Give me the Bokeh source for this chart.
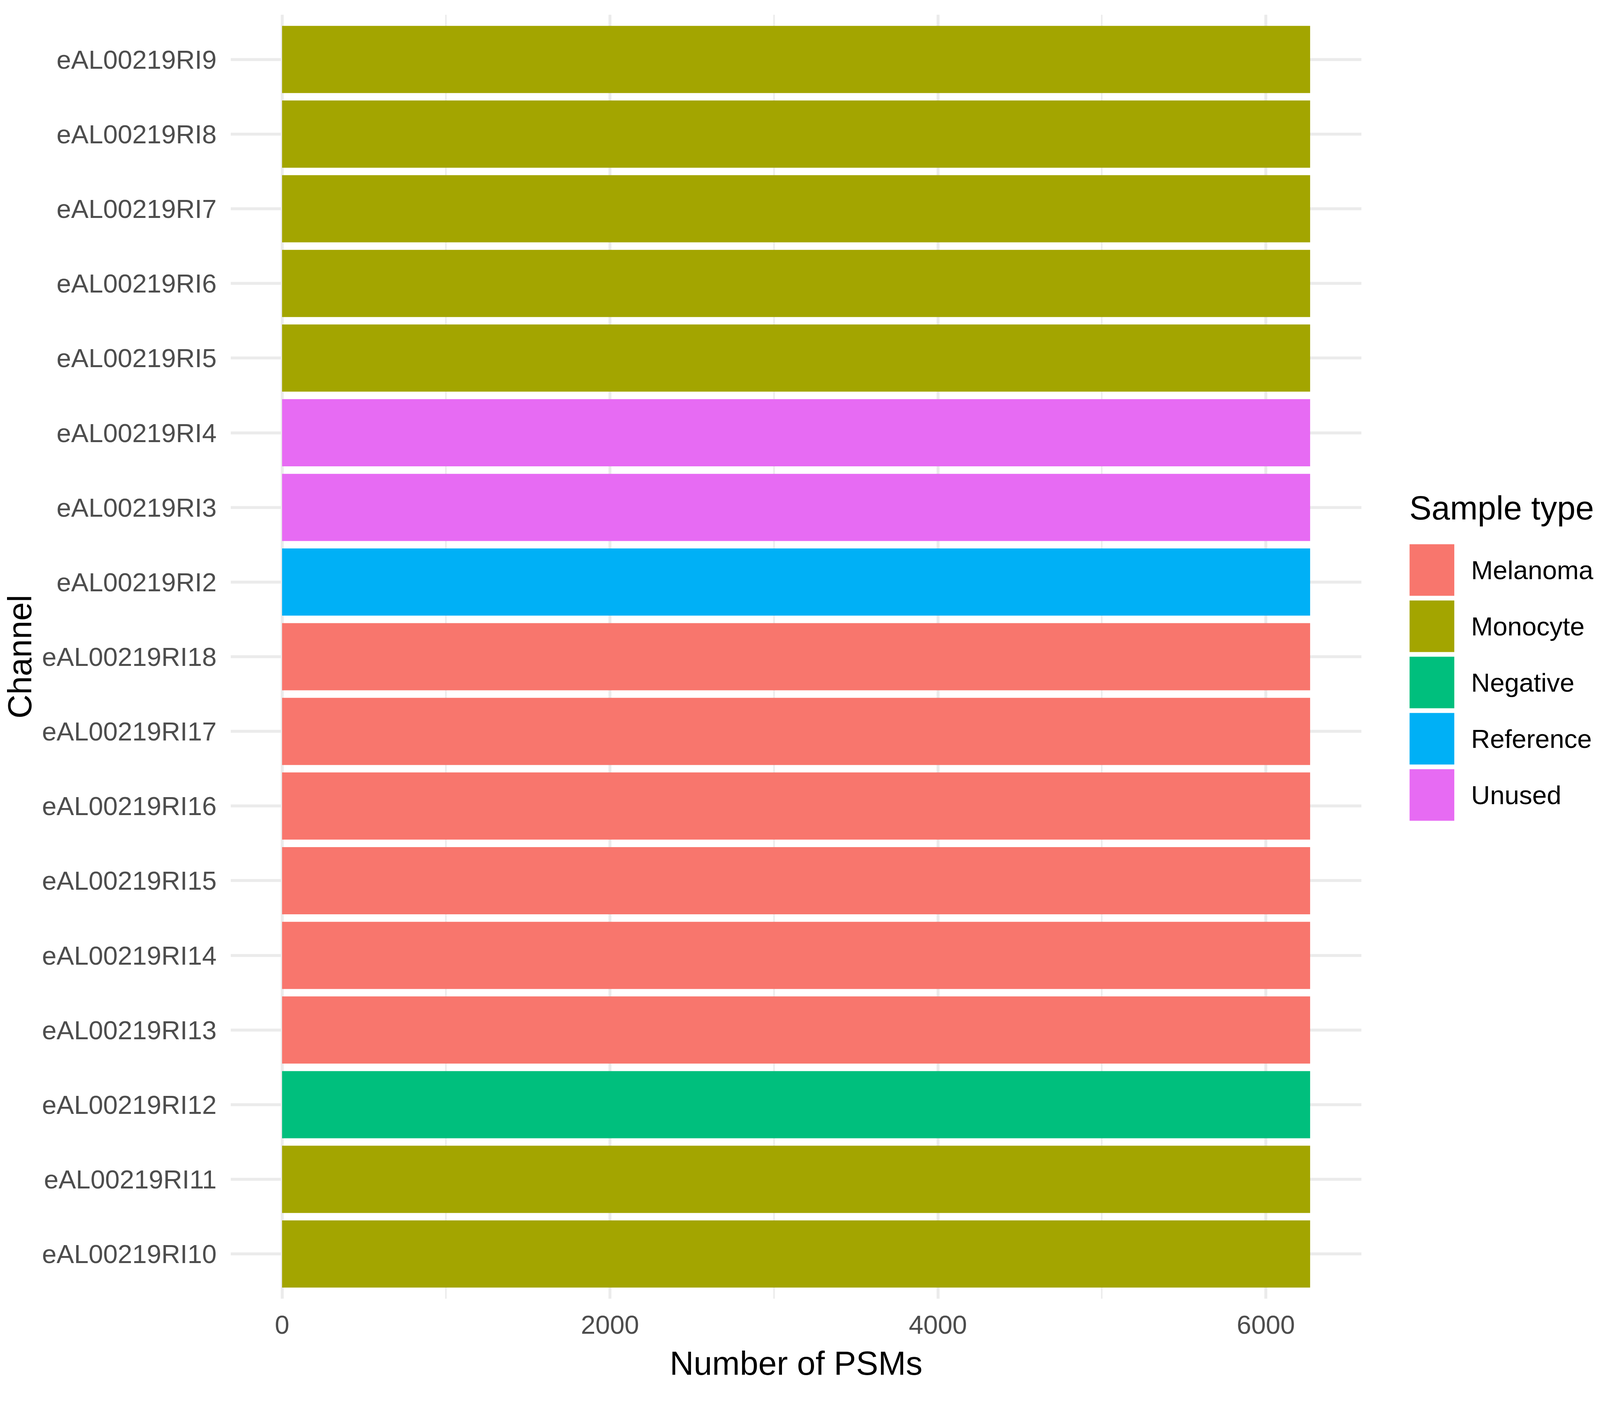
from bokeh.plotting import figure
from bokeh.models import (Range1d, FactorRange, FixedTicker, Legend, LegendItem,
                          ColumnDataSource)
from bokeh.transform import factor_cmap
from bokeh.embed import file_html
from bokeh.resources import INLINE

# ---- data ----
channels = ["eAL00219RI10", "eAL00219RI11", "eAL00219RI12", "eAL00219RI13",
            "eAL00219RI14", "eAL00219RI15", "eAL00219RI16", "eAL00219RI17",
            "eAL00219RI18", "eAL00219RI2", "eAL00219RI3", "eAL00219RI4",
            "eAL00219RI5", "eAL00219RI6", "eAL00219RI7", "eAL00219RI8",
            "eAL00219RI9"]
psms = [6270, 6270, 6270, 6270, 6270, 6270, 6270, 6270, 6270,
        6270, 6270, 6270, 6270, 6270, 6270, 6270, 6270]
sample_type = ["Monocyte", "Monocyte", "Negative", "Melanoma", "Melanoma",
               "Melanoma", "Melanoma", "Melanoma", "Melanoma", "Reference",
               "Unused", "Unused", "Monocyte", "Monocyte", "Monocyte",
               "Monocyte", "Monocyte"]
type_levels = ["Melanoma", "Monocyte", "Negative", "Reference", "Unused"]
type_colors = ["#F8766D", "#A3A500", "#00BF7D", "#00B0F6", "#E76BF3"]
x_ticks = [0, 2000, 4000, 6000]
x_minor = [1000, 3000, 5000]

FONT = "Liberation Sans"

xmax = max(psms)
p = figure(frame_width=2895, frame_height=3288,
           output_backend="svg", toolbar_location=None,
           x_range=Range1d(-0.05 * xmax, 1.05 * xmax),
           y_range=FactorRange(factors=channels, range_padding=0.1,
                               range_padding_units="absolute"),
           min_border_left=585, min_border_right=10,
           min_border_top=37, min_border_bottom=259)
p.outline_line_color = None
p.background_fill_color = "white"
p.border_fill_color = "white"

src = ColumnDataSource(dict(channel=channels, psms=psms, stype=sample_type))
bars = p.hbar(y="channel", left=0, right="psms", height=0.9, source=src,
              fill_color=factor_cmap("stype", type_colors, type_levels),
              line_color=None)

# axes
p.xaxis.ticker = FixedTicker(ticks=x_ticks, minor_ticks=x_minor)
for ax in (p.xaxis[0], p.yaxis[0]):
    ax.axis_line_color = None
    ax.major_tick_line_color = None
    ax.minor_tick_line_color = None
    ax.major_tick_out = 0
    ax.major_tick_in = 0
    ax.minor_tick_out = 0
    ax.minor_tick_in = 0
    ax.major_label_text_font = FONT
    ax.major_label_text_font_size = "67px"
    ax.major_label_text_color = "#4D4D4D"
    ax.axis_label_text_font = FONT
    ax.axis_label_text_font_size = "85px"
    ax.axis_label_text_font_style = "normal"
    ax.axis_label_text_color = "black"

p.xaxis.axis_label = "Number of PSMs"
p.yaxis.axis_label = "Channel"
p.xaxis.major_label_standoff = 43
p.xaxis.axis_label_standoff = 25
p.yaxis.major_label_standoff = 36
p.yaxis.axis_label_standoff = 6

# grid
p.xgrid.grid_line_color = "#EBEBEB"
p.xgrid.grid_line_width = 7.5
p.xgrid.minor_grid_line_color = "#EBEBEB"
p.xgrid.minor_grid_line_width = 3.7
p.ygrid.grid_line_color = "#EBEBEB"
p.ygrid.grid_line_width = 7.5

# legend keys: hidden line renderers (same data) drawn as thick butt-capped
# strokes, which gives solid rectangular keys with ggplot-like spacing
items = []
for lvl, col in zip(type_levels, type_colors):
    r = p.line(x="psms", y="channel", source=src, line_color=col,
               line_width=132, line_cap="butt", visible=False)
    items.append(LegendItem(label=lvl, renderers=[r]))

legend = Legend(items=items, location=(123, 1218), title="Sample type",
                title_text_font=FONT, title_text_font_size="85px",
                title_text_font_style="normal", title_text_color="black",
                title_standoff=37,
                label_text_font=FONT, label_text_font_size="67px",
                label_text_color="black", label_standoff=43,
                glyph_width=115, glyph_height=144, spacing=0,
                padding=0, margin=0,
                background_fill_alpha=0, border_line_color=None)
p.add_layout(legend, "right")

open("out.html", "w").write(file_html(p, INLINE))
